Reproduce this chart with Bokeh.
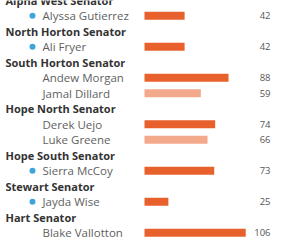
from bokeh.plotting import figure
from bokeh.models import ColumnDataSource, Range1d
from bokeh.core.properties import value
from bokeh.embed import file_html
from bokeh.resources import INLINE

# ---- data ----
districts = ["Alpha West Senator", "North Horton Senator", "South Horton Senator",
             "Hope North Senator", "Hope South Senator", "Stewart Senator", "Hart Senator"]
candidates = [
    ["Alyssa Gutierrez"],
    ["Ali Fryer"],
    ["Andew Morgan", "Jamal Dillard"],
    ["Derek Uejo", "Luke Greene"],
    ["Sierra McCoy"],
    ["Jayda Wise"],
    ["Blake Vallotton"],
]
votes = [
    [42],
    [42],
    [88, 59],
    [74, 66],
    [73],
    [25],
    [106],
]
incumbent = [
    [True],
    [True],
    [False, False],
    [False, False],
    [True],
    [True],
    [False],
]
leading = [
    [True],
    [True],
    [True, False],
    [True, False],
    [True],
    [True],
    [True],
]

# ---- build rows ----
hdr_rows, hdr_text = [], []
c_rows, c_names, c_vals, c_lab, c_col = [], [], [], [], []
dot_rows = []
r = 0
for d, names, vals, inc, lead in zip(districts, candidates, votes, incumbent, leading):
    hdr_rows.append(r)
    hdr_text.append(d)
    r += 1
    for n, v, i, l in zip(names, vals, inc, lead):
        c_rows.append(r)
        c_names.append(n)
        c_vals.append(v)
        c_lab.append(str(v))
        c_col.append("#E8612C" if l else "#F3A98C")
        if i:
            dot_rows.append(r)
        r += 1

W, H = 274, 240
PX_PER_UNIT = 0.955
ZERO_PX = 144
ROW_PX = 15.5
FIRST_PX = 15.3

x_start = -ZERO_PX / PX_PER_UNIT
x_end = (W - ZERO_PX) / PX_PER_UNIT
y_top = 1 - FIRST_PX / ROW_PX
y_bot = 1 + (H - FIRST_PX) / ROW_PX

p = figure(width=W, height=H, output_backend="svg", toolbar_location=None,
           x_range=Range1d(x_start, x_end), y_range=Range1d(y_bot, y_top),
           min_border=0, outline_line_color=None)
p.axis.visible = False
p.grid.visible = False
p.background_fill_color = "white"
p.border_fill_color = "white"

dot_x = -(ZERO_PX - 32) / PX_PER_UNIT

cs = ColumnDataSource(dict(y=c_rows, name=c_names, v=c_vals, lab=c_lab, col=c_col,
                           zero=[0] * len(c_rows), right=[x_end] * len(c_rows)))
hs = ColumnDataSource(dict(y=hdr_rows, t=hdr_text, zero=[0] * len(hdr_rows)))
ds = ColumnDataSource(dict(y=dot_rows, dx=[dot_x] * len(dot_rows)))

p.hbar(y="y", left=0, right="v", height=0.52, color="col", source=cs, line_color=None)

p.text(x="zero", y="y", text="t", source=hs, x_offset=-139,
       text_font=value("Open Sans"), text_font_style="bold", text_font_size="11px",
       text_color="#333333", text_baseline="middle", text_align="left")
p.text(x="zero", y="y", text="name", source=cs, x_offset=-102,
       text_font=value("Open Sans"), text_font_size="11.5px",
       text_color="#5f5f5f", text_baseline="middle", text_align="left")
p.text(x="right", y="y", text="lab", source=cs, x_offset=-4,
       text_font=value("Open Sans"), text_font_size="9.5px",
       text_color="#555555", text_baseline="middle", text_align="right")

p.scatter(x="dx", y="y", source=ds, size=6, color="#3DA5D9", line_color=None)

open("out.html", "w").write(file_html(p, INLINE))
